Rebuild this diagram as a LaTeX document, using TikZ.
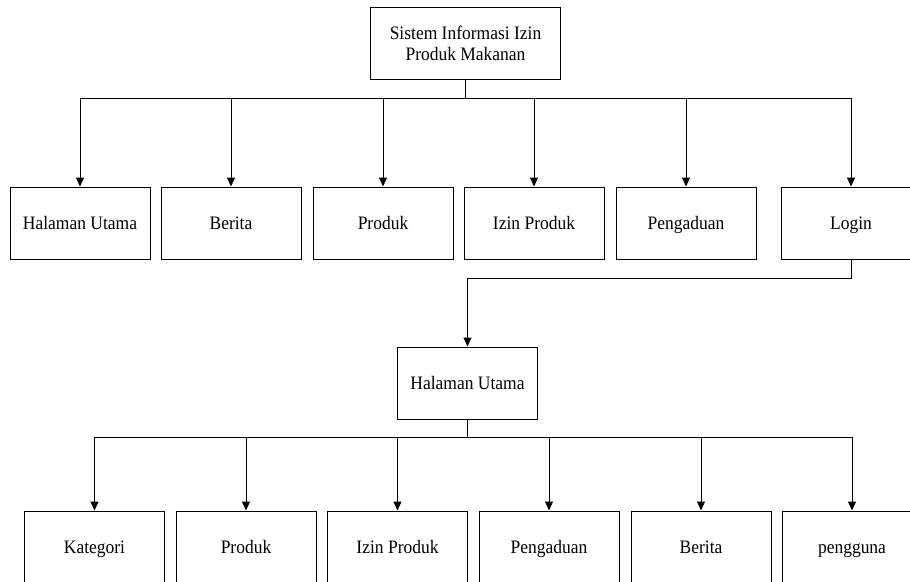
\documentclass[tikz,border=0pt]{standalone}
\usepackage{fontspec}
\setmainfont{Liberation Serif}[FakeStretch=0.92]
\usetikzlibrary{arrows.meta}
\begin{document}
\begin{tikzpicture}[x=1pt,y=-1pt,
  box/.style={draw=black,line width=1pt,minimum width=140pt,minimum height=72pt,inner sep=0pt,align=center,font=\fontsize{19}{21}\selectfont},
  one/.style={text height=15pt,text depth=3pt},
  arr/.style={line width=1pt,-{Triangle[length=9pt,width=8pt]}},
  lin/.style={line width=1pt}]
\useasboundingbox (0,0) rectangle (910,581);
\clip (0,0) rectangle (910,581);
\node[box,minimum width=190pt] (top) at (465.5,43) {Sistem Informasi Izin\\Produk Makanan};
\node[box,one] (a1) at (80,223) {Halaman Utama};
\node[box,one] (a2) at (231,223) {Berita};
\node[box,one] (a3) at (383,223) {Produk};
\node[box,one] (a4) at (534,223) {Izin Produk};
\node[box,one] (a5) at (686,223) {Pengaduan};
\node[box,one] (a6) at (851,223) {Login};
\node[box,one] (mid) at (467.5,383) {Halaman Utama};
\node[box,one] (b1) at (94.5,547) {Kategori};
\node[box,one] (b2) at (246,547) {Produk};
\node[box,one] (b3) at (397.5,547) {Izin Produk};
\node[box,one] (b4) at (549,547) {Pengaduan};
\node[box,one] (b5) at (701,547) {Berita};
\node[box,one] (b6) at (852,547) {pengguna};
\coordinate (bus1) at (465.5,98);
\coordinate (bus2) at (467.5,437.7);
\coordinate (lb) at (851,278);
\draw[lin] (top.south) -- (bus1);
\foreach \n in {a1,a2,a3,a4,a5,a6}{\draw[arr] (bus1) -| (\n.north);}
\draw[arr] (a6.south) -- (lb) -| (mid.north);
\draw[lin] (mid.south) -- (bus2);
\foreach \n in {b1,b2,b3,b4,b5,b6}{\draw[arr] (bus2) -| (\n.north);}
\end{tikzpicture}
\end{document}
